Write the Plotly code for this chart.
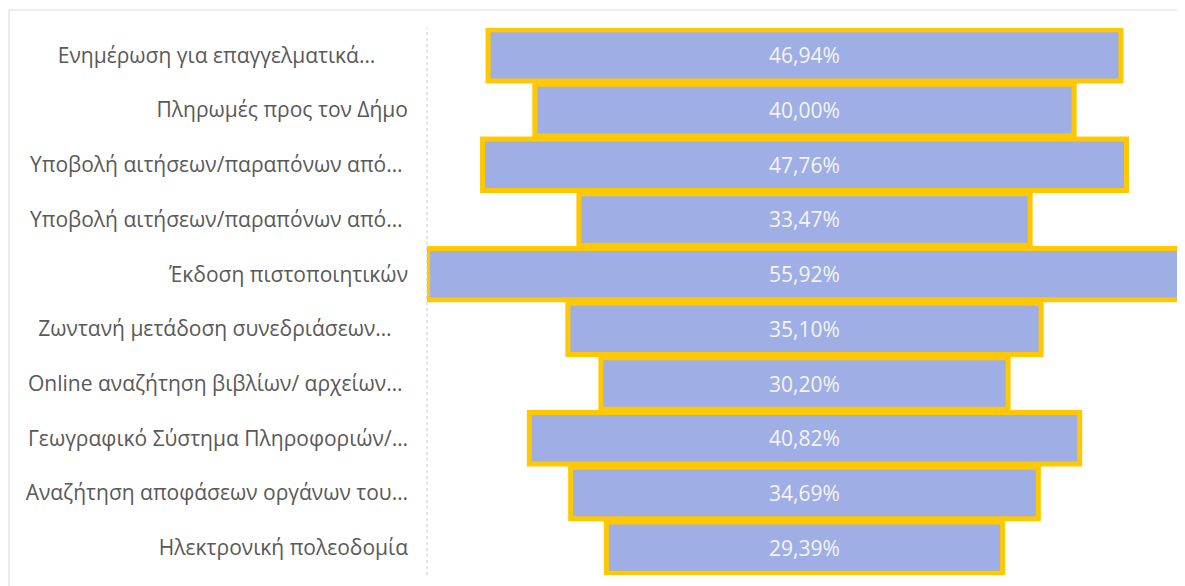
import plotly.graph_objects as go

categories = [
    "Ενημέρωση για επαγγελματικά…",
    "Πληρωμές προς τον Δήμο",
    "Υποβολή αιτήσεων/παραπόνων από…",
    "Υποβολή αιτήσεων/παραπόνων από…",
    "Έκδοση πιστοποιητικών",
    "Ζωντανή μετάδοση συνεδριάσεων…",
    "Online αναζήτηση βιβλίων/ αρχείων…",
    "Γεωγραφικό Σύστημα Πληροφοριών/…",
    "Αναζήτηση αποφάσεων οργάνων του…",
    "Ηλεκτρονική πολεοδομία",
]
values = [46.94, 40.00, 47.76, 33.47, 55.92, 35.10, 30.20, 40.82, 34.69, 29.39]
# trailing padding left by the truncated labels (number of non-breaking spaces)
label_pad = [6, 0, 1, 1, 0, 3, 1, 0, 0, 0]

# padding also keeps the duplicate category labels distinct (zero-width suffix)
y_keys = [c + "\u00a0" * p + "\u200b" * i
          for i, (c, p) in enumerate(zip(categories, label_pad))]
labels = [f"{v:.2f}".replace(".", ",") + "%" for v in values]

W, H = 1177, 578
L, R, T, B = 419, 3, 20, 11
pw, ph = W - L - R, H - T - B

fig = go.Figure(go.Funnel(
    y=y_keys,
    x=values,
    text=labels,
    textinfo="text",
    textposition="inside",
    insidetextanchor="middle",
    textfont=dict(color="#F5F5F5", size=21, family="Open Sans"),
    marker=dict(color="#9FAEE5", line=dict(color="#FFC800", width=5)),
    connector=dict(visible=False),
    constraintext="none",
))

fig.update_layout(
    width=W, height=H,
    margin=dict(l=L, r=R, t=T, b=B),
    paper_bgcolor="white", plot_bgcolor="white",
    funnelgap=0.06,
    showlegend=False,
    xaxis=dict(visible=False, range=[-28.0, 28.0]),
    yaxis=dict(
        tickfont=dict(family="Open Sans", size=21, color="#595959"),
        ticklabelstandoff=18,
        showline=False, showgrid=False, ticks="",
    ),
    shapes=[
        dict(type="line", xref="paper", yref="paper", x0=0, x1=0, y0=0, y1=1,
             line=dict(color="#C8C8C8", width=1, dash="dot"), layer="below"),
        dict(type="rect", xref="paper", yref="paper",
             x0=-(L - 1) / pw, x1=1.05, y0=-(B + 5) / ph, y1=1 + (T - 2) / ph,
             line=dict(color="#D9D9D9", width=1), fillcolor="rgba(0,0,0,0)", layer="below"),
    ],
)

fig.write_html("out.html")
